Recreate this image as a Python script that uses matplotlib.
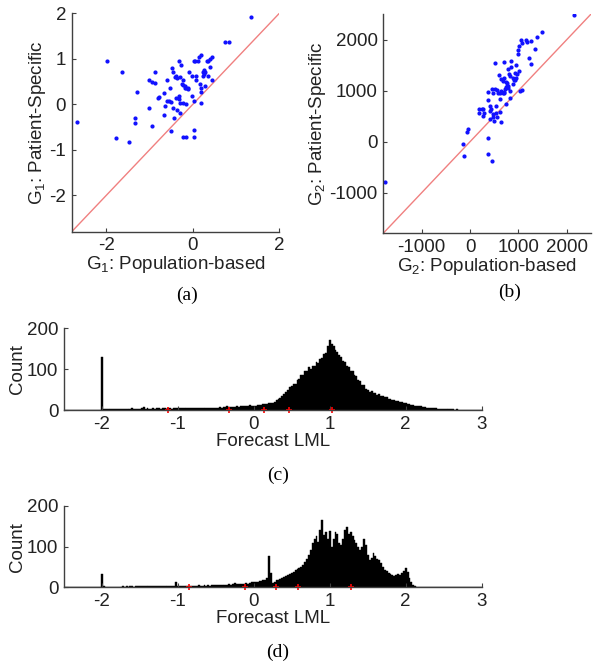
import numpy as np
import matplotlib
matplotlib.use("Agg")
import matplotlib.pyplot as plt

plt.rcParams['font.family'] = ['Liberation Sans', 'DejaVu Sans']
plt.rcParams['mathtext.fontset'] = 'custom'
plt.rcParams['mathtext.rm'] = 'Liberation Sans'
plt.rcParams['axes.unicode_minus'] = False

# (a) G1 population-based vs patient-specific
g1_pop = [1.34, 0.74, 0.83, -1.99, -1.63, -1.30, -2.67, -1.78, -1.47, -1.34, -1.34,
          -1.01, -0.95, -1.01, -0.95, -0.87, -0.87, -0.77, -0.80, -0.66, -0.59,
          -0.66, -0.64, -0.60, -0.56, -0.51, -0.53, -0.47, -0.45, -0.44, -0.51,
          -0.39, -0.33, -0.31, -0.37, -0.29, -0.32, -0.45, -0.39, -0.36, -0.29,
          -0.22, -0.27, -0.22, -0.19, -0.16, -0.11, -0.17, -0.10, -0.29, -0.22,
          -0.15, -0.22, -0.15, -0.08, -0.01, 0.03, 0.05, 0.08, 0.08, -0.01, 0.03,
          0.03, 0.03, 0.11, 0.15, 0.20, 0.17, 0.19, 0.20, 0.20, 0.24, 0.23, 0.26,
          0.28, 0.27, 0.28, 0.32, 0.36, 0.39, 0.45, 0.39, 0.34, 0.45, -0.40, -0.25]
g1_pat = [1.93, 1.37, 1.37, 0.95, 0.72, 0.28, -0.38, -0.74, -0.83, -0.29, -0.40,
          -0.09, -0.48, 0.53, 0.50, 0.48, 0.72, 0.17, 0.13, 0.26, 0.53,
          -0.24, -0.04, 0.07, 0.07, 0.06, 0.36, 0.80, -0.09, -0.31, -0.58,
          0.15, 0.18, 0.11, -0.12, -0.20, 0.96, 0.72, 0.62, 0.57, 0.59,
          0.53, 0.86, 0.42, 0.37, 0.35, 0.33, 0.40, 0.36, 0.02, 0.02,
          0.00, -0.71, -0.71, 0.72, 0.62, 0.95, 0.95, 0.62, 0.53, 0.19, 0.07,
          -0.57, -0.72, 0.96, 1.04, 1.09, 0.44, 0.36, 0.27, 0.02, 0.62, 0.72, 0.75,
          0.70, 0.67, 0.41, 0.96, 0.95, 0.99, 1.03, 0.81, 0.62, 0.53, 0.60, 0.45]

# (b) G2 population-based vs patient-specific
g2_pop = [2144, -1753, -138, -134, -68, -34, 378, 365, 447, 192, 250, 275,
          192, 260, 295, 412, 440, 412, 468, 371, 365, 460, 510, 480, 560,
          412, 480, 560, 500, 650, 530, 610, 580, 610, 522, 600, 640, 700,
          680, 740, 710, 790, 845, 845, 800, 830, 640, 700, 740, 790, 770,
          820, 730, 700, 680, 780, 742, 825, 880, 920, 960, 1010, 950, 990,
          990, 1020, 1050, 1070, 1022, 1064, 1160, 1180, 1250, 1210, 1250,
          1345, 1375, 1480, 880, 930, 760, 620, 540, 900, 950]
g2_pat = [2475, -787, -45, -273, 183, 242, 66, -240, -377, 633, 633, 650,
          560, 510, 560, 690, 650, 600, 540, 814, 977, 1040, 1040, 960, 1010,
          450, 480, 490, 410, 380, 570, 580, 950, 960, 1550, 1300, 1220, 1250,
          1180, 1160, 1560, 1430, 1580, 1460, 1320, 1280, 1000, 960, 1080, 1100,
          1150, 1000, 1040, 980, 960, 1050, 740, 847, 1130, 1200, 1320, 1380,
          1500, 1720, 1800, 1880, 1990, 1940, 1000, 1020, 2000, 1950, 1980,
          1630, 1530, 1820, 2040, 2150, 1250, 1350, 1100, 840, 700, 1200, 1250]

# (c) forecast LML histogram, bin centres -2.5 .. 3.0 step 0.025
hist_c = [0] * 20 + [130] + [
    3, 2, 3, 2, 2, 3, 2, 3, 3, 2, 3, 2, 3, 3, 2, 4, 3, 3, 2, 3,
    4, 7, 3, 4, 3, 3, 4, 3, 4, 5, 3, 4, 4, 3, 5, 4, 3, 4, 5,
    6, 4, 5, 4, 4, 5, 4, 5, 4, 5, 5, 4, 6, 5, 5, 6, 5, 6, 5, 6,
    6, 6, 7, 6, 7, 8, 9, 7, 8, 7, 8, 9, 8, 10, 9, 10, 11, 10, 12, 11,
    10, 11, 12, 12, 13, 14, 15, 14, 16, 17, 18, 20, 24, 27, 30, 34, 40, 45, 48, 55,
    58, 64, 63, 74, 76, 85, 86, 96, 95, 104, 101, 108, 107, 116, 115, 125, 126, 137, 140, 155,
    170, 160, 155, 146, 142, 134, 130, 120, 118, 108, 106, 96, 94, 85, 82, 72, 70, 61, 60, 52,
    50, 45, 46, 41, 42, 37, 38, 34, 34, 31, 31, 27, 28, 24, 25, 21, 22, 19, 20, 17,
    17, 15, 15, 13, 13, 11, 11, 9, 9, 8, 8, 6, 6, 5, 5, 4, 4, 3, 3, 3,
    3, 2, 2, 2, 2, 2, 1, 2, 1, 1, 1, 1, 1, 1, 1, 1, 0, 1, 0, 0, 0]
marks_c = [-1.135, -0.333, 0.136, 0.465, 1.03]

# (d) forecast LML histogram
hist_d = [0] * 20 + [33] + [
    2, 1, 0, 0, 0, 1, 0, 0, 1, 1, 2, 1, 2, 1, 2, 2, 1, 2, 2, 3,
    2, 2, 3, 2, 3, 2, 2, 3, 2, 3, 3, 2, 3, 3, 2, 3, 3, 4, 14,
    3, 4, 3, 4, 3, 4, 4, 3, 4, 4, 4, 5, 4, 4, 5, 4, 5, 4, 5, 5,
    5, 5, 6, 5, 6, 6, 5, 7, 6, 7, 10, 7, 8, 7, 9, 8, 10, 9, 11, 12,
    12, 13, 14, 15, 15, 17, 18, 22, 77, 35, 10, 14, 17, 19, 21, 23, 25, 27, 30, 33,
    35, 38, 42, 44, 47, 50, 55, 62, 70, 80, 92, 108, 118, 125, 112, 140, 166, 128, 135, 120,
    138, 100, 118, 137, 130, 110, 104, 120, 140, 149, 132, 137, 125, 116, 110, 100, 92, 98, 120, 105,
    80, 67, 72, 85, 78, 70, 67, 60, 50, 43, 40, 36, 32, 30, 28, 30, 32, 30, 34, 40,
    47, 38, 22, 12, 6, 2, 1, 0, 0, 0, 0, 0, 0, 0, 0, 0, 0, 0, 0, 0,
    0, 0, 0, 0, 0, 0, 0, 0, 0, 0, 0, 0, 0, 0, 0, 0, 0, 0, 0, 0, 0]
marks_d = [-0.855, -0.11, 0.29, 0.575, 1.276]

bin_w = 0.025
centers = -2.5 + bin_w * np.arange(len(hist_c))

fig = plt.figure(figsize=(5.94, 6.64), dpi=100)
spine_col = '#404040'
line_col = '#f08080'
txt_col = '#222222'
fs = 13.5


def style(ax):
    for s in ['top', 'right']:
        ax.spines[s].set_visible(False)
    for s in ['left', 'bottom']:
        ax.spines[s].set_color(spine_col)
        ax.spines[s].set_linewidth(1.0)
    ax.tick_params(direction='in', length=3, width=0.8, color=spine_col,
                   labelsize=fs, labelcolor=txt_col, pad=4)


# scatter (a)
ax = fig.add_axes([0.1207, 0.651, 0.3495, 0.3289])
lim = [-2.8, 2]
ax.plot(lim, lim, color=line_col, lw=1)
ax.plot(g1_pop, g1_pat, '.', color='#1010ff', ms=4)
ax.set_xlim(lim)
ax.set_ylim(lim)
ax.set_xticks([-2, 0, 2])
ax.set_yticks([-2, -1, 0, 1, 2])
ax.set_xlabel(r'$\mathregular{G_1}$: Population-based', fontsize=fs, labelpad=0, color=txt_col)
ax.set_ylabel(r'$\mathregular{G_1}$: Patient-Specific', fontsize=fs, labelpad=1, color=txt_col)
style(ax)
fig.text(187 / 594, 1 - 295 / 664, '(a)', family='Liberation Serif', fontsize=14,
         ha='center', va='center')

# scatter (b)
ax = fig.add_axes([0.6453, 0.6488, 0.349, 0.3294])
lim = [-1790, 2490]
ax.plot(lim, lim, color=line_col, lw=1)
ax.plot(g2_pop, g2_pat, '.', color='#1010ff', ms=4)
ax.set_xlim(lim)
ax.set_ylim(lim)
ax.set_xticks([-1000, 0, 1000, 2000])
ax.set_yticks([-1000, 0, 1000, 2000])
ax.set_xlabel(r'$\mathregular{G_2}$: Population-based', fontsize=fs, labelpad=0, color=txt_col)
ax.set_ylabel(r'$\mathregular{G_2}$: Patient-Specific', fontsize=fs, labelpad=1, color=txt_col)
style(ax)
fig.text(510 / 594, 1 - 292 / 664, '(b)', family='Liberation Serif', fontsize=14,
         ha='center', va='center')

# histograms (c) and (d)
for rect, counts, marks, cap, cap_y in [
        ([0.1077, 0.3825, 0.7032, 0.1235], hist_c, marks_c, '(c)', 475),
        ([0.1077, 0.1155, 0.7032, 0.1225], hist_d, marks_d, '(d)', 652)]:
    ax = fig.add_axes(rect)
    ax.bar(centers, counts, width=bin_w, color='k', edgecolor='k', linewidth=0.3)
    ax.plot(marks, np.zeros(len(marks)), '+', color='red', ms=4, mew=1.2, clip_on=False)
    ax.set_xlim(-2.5, 3)
    ax.set_ylim(0, 200)
    ax.set_xticks([-2, -1, 0, 1, 2, 3])
    ax.set_yticks([0, 100, 200])
    ax.set_xlabel('Forecast LML', fontsize=fs, labelpad=0, color=txt_col)
    ax.set_ylabel('Count', fontsize=fs, labelpad=1, color=txt_col)
    style(ax)
    fig.text(278 / 594, 1 - cap_y / 664, cap, family='Liberation Serif', fontsize=14,
             ha='center', va='center')

fig.savefig('out.png', dpi=100)
